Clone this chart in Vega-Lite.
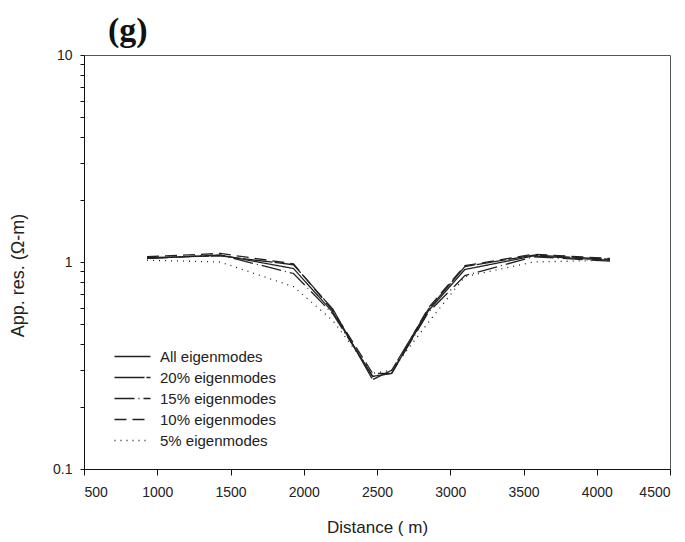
{
  "$schema": "https://vega.github.io/schema/vega-lite/v6.json",
  "width": 586,
  "height": 414,
  "autosize": "none",
  "padding": {"left": 84, "top": 55, "right": 15, "bottom": 73},
  "background": "white",
  "config": {
    "font": "Liberation Sans",
    "view": {"stroke": "#555", "strokeWidth": 1},
    "axis": {"grid": false, "domainColor": "#111", "tickColor": "#111", "labelColor": "#222", "titleColor": "#222", "labelFontSize": 14, "titleFontSize": 17, "titleFontWeight": "normal", "labelFont": "Liberation Sans", "titleFont": "Liberation Sans"}
  },
  "title": {"text": "(g)", "anchor": "start", "frame": "group", "dx": 24, "font": "Liberation Serif", "fontSize": 34, "fontWeight": "bold", "offset": 0, "color": "#111"},
  "data": {"values": [
    {"d": 930, "v": 1.04, "s": "All eigenmodes"},
    {"d": 1430, "v": 1.08, "s": "All eigenmodes"},
    {"d": 1930, "v": 0.93, "s": "All eigenmodes"},
    {"d": 2200, "v": 0.57, "s": "All eigenmodes"},
    {"d": 2470, "v": 0.28, "s": "All eigenmodes"},
    {"d": 2600, "v": 0.29, "s": "All eigenmodes"},
    {"d": 2850, "v": 0.58, "s": "All eigenmodes"},
    {"d": 3100, "v": 0.92, "s": "All eigenmodes"},
    {"d": 3570, "v": 1.07, "s": "All eigenmodes"},
    {"d": 4090, "v": 1.02, "s": "All eigenmodes"},
    {"d": 930, "v": 1.05, "s": "20% eigenmodes"},
    {"d": 1430, "v": 1.07, "s": "20% eigenmodes"},
    {"d": 1930, "v": 0.97, "s": "20% eigenmodes"},
    {"d": 2200, "v": 0.59, "s": "20% eigenmodes"},
    {"d": 2470, "v": 0.27, "s": "20% eigenmodes"},
    {"d": 2600, "v": 0.30, "s": "20% eigenmodes"},
    {"d": 2850, "v": 0.59, "s": "20% eigenmodes"},
    {"d": 3100, "v": 0.95, "s": "20% eigenmodes"},
    {"d": 3570, "v": 1.08, "s": "20% eigenmodes"},
    {"d": 4090, "v": 1.03, "s": "20% eigenmodes"},
    {"d": 930, "v": 1.04, "s": "15% eigenmodes"},
    {"d": 1430, "v": 1.08, "s": "15% eigenmodes"},
    {"d": 1930, "v": 0.88, "s": "15% eigenmodes"},
    {"d": 2200, "v": 0.56, "s": "15% eigenmodes"},
    {"d": 2470, "v": 0.28, "s": "15% eigenmodes"},
    {"d": 2600, "v": 0.29, "s": "15% eigenmodes"},
    {"d": 2850, "v": 0.57, "s": "15% eigenmodes"},
    {"d": 3100, "v": 0.86, "s": "15% eigenmodes"},
    {"d": 3570, "v": 1.06, "s": "15% eigenmodes"},
    {"d": 4090, "v": 1.01, "s": "15% eigenmodes"},
    {"d": 930, "v": 1.06, "s": "10% eigenmodes"},
    {"d": 1430, "v": 1.1, "s": "10% eigenmodes"},
    {"d": 1930, "v": 0.98, "s": "10% eigenmodes"},
    {"d": 2200, "v": 0.58, "s": "10% eigenmodes"},
    {"d": 2470, "v": 0.29, "s": "10% eigenmodes"},
    {"d": 2600, "v": 0.29, "s": "10% eigenmodes"},
    {"d": 2850, "v": 0.6, "s": "10% eigenmodes"},
    {"d": 3100, "v": 0.96, "s": "10% eigenmodes"},
    {"d": 3570, "v": 1.09, "s": "10% eigenmodes"},
    {"d": 4090, "v": 1.04, "s": "10% eigenmodes"},
    {"d": 930, "v": 1.02, "s": "5% eigenmodes"},
    {"d": 1430, "v": 1.0, "s": "5% eigenmodes"},
    {"d": 1930, "v": 0.76, "s": "5% eigenmodes"},
    {"d": 2200, "v": 0.52, "s": "5% eigenmodes"},
    {"d": 2470, "v": 0.29, "s": "5% eigenmodes"},
    {"d": 2600, "v": 0.30, "s": "5% eigenmodes"},
    {"d": 2850, "v": 0.51, "s": "5% eigenmodes"},
    {"d": 3100, "v": 0.85, "s": "5% eigenmodes"},
    {"d": 3570, "v": 1.0, "s": "5% eigenmodes"},
    {"d": 4090, "v": 1.02, "s": "5% eigenmodes"}
  ]},
  "mark": {"type": "line", "color": "#222", "strokeWidth": 1.3},
  "encoding": {
    "x": {"field": "d", "type": "quantitative", "scale": {"domain": [500, 4500], "nice": false},
      "axis": {"values": [500, 1000, 1500, 2000, 2500, 3000, 3500, 4000, 4500], "format": "d", "title": "Distance ( m)", "tickSize": 6, "labelPadding": 10, "titlePadding": 20}},
    "y": {"field": "v", "type": "quantitative", "scale": {"type": "log", "domain": [0.1, 10], "nice": false},
      "axis": {"values": [0.1, 0.2, 0.3, 0.4, 0.5, 0.6, 0.7, 0.8, 0.9, 1, 2, 3, 4, 5, 6, 7, 8, 9, 10], "labelExpr": "datum.value == 0.1 ? '0.1' : datum.value == 1 ? '1' : datum.value == 10 ? '10' : ''", "title": "App. res. (Ω-m)", "titleFontSize": 18, "tickSize": 4, "labelPadding": 8, "titleX": -66, "titleY": 220, "titleAngle": -90, "titleBaseline": "middle", "titleAlign": "center"}},
    "strokeDash": {"field": "s", "type": "nominal",
      "scale": {"domain": ["All eigenmodes", "20% eigenmodes", "15% eigenmodes", "10% eigenmodes", "5% eigenmodes"], "range": [[1, 0], [30, 2], [20, 4, 1, 4], [12, 6], [1, 5]]},
      "legend": {"title": null, "orient": "none", "legendX": 41, "legendY": 294, "padding": 0, "symbolType": "M-3,0H3", "symbolSize": 144, "symbolStrokeWidth": 1.4, "symbolStrokeColor": "#222", "symbolFillColor": "transparent", "labelFontSize": 15, "labelColor": "#222", "rowPadding": 5, "labelOffset": 20}}
  }
}
